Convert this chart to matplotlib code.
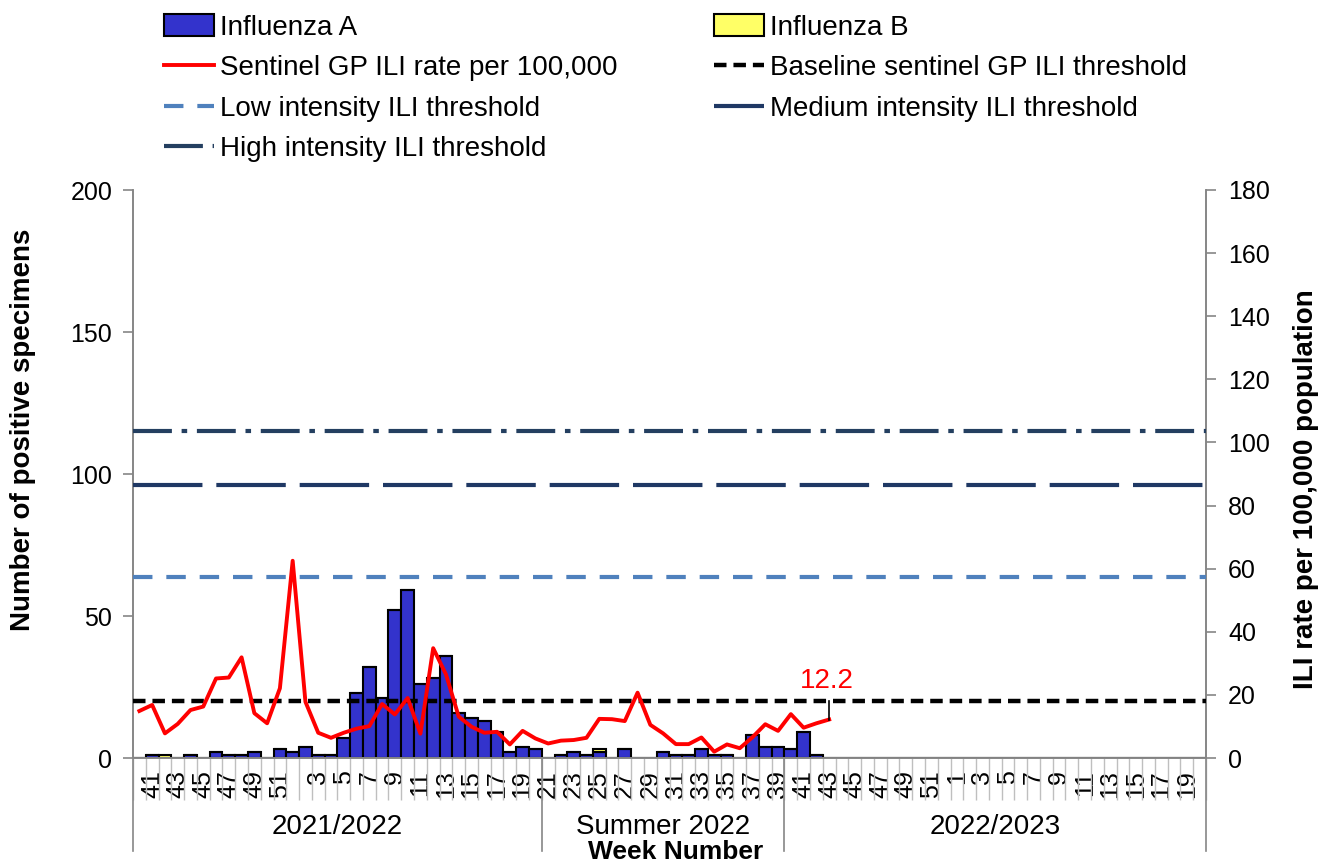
import matplotlib
matplotlib.use("Agg")
import matplotlib.pyplot as plt
import numpy as np
from matplotlib.patches import Patch
from matplotlib.lines import Line2D

plt.rcParams['font.family'] = ['Liberation Sans', 'DejaVu Sans']
plt.rcParams['lines.scale_dashes'] = False

# ---------------- data ----------------
season1_weeks = list(range(40, 53)) + list(range(2, 21))
summer_weeks = list(range(21, 40))
season2_weeks = list(range(40, 53)) + list(range(1, 21))
weeks = season1_weeks + summer_weeks + season2_weeks
week_labels = [str(w) if w % 2 == 1 else "" for w in weeks]

group_names = ["2021/2022", "Summer 2022", "2022/2023"]
group_sizes = [len(season1_weeks), len(summer_weeks), len(season2_weeks)]

flu_a_obs = [0, 1, 0, 0, 1, 0, 2, 1, 1, 2, 0, 3, 2, 4, 1, 1, 7, 23, 32, 21,
             52, 59, 26, 28, 36, 16, 14, 13, 9, 2, 4, 3,
             0, 1, 2, 1, 2, 0, 3, 0, 0, 2, 1, 1, 3, 1, 1, 0, 8, 4, 4,
             3, 9, 1]
flu_b_obs = [0, 0, 1, 0, 0, 0, 0, 0, 0, 0, 0, 0, 0, 0, 0, 0, 0, 0, 0, 0,
             0, 0, 0, 0, 0, 0, 0, 0, 0, 0, 0, 0,
             0, 0, 0, 0, 1, 0, 0, 0, 0, 0, 0, 0, 0, 0, 0, 0, 0, 0, 0,
             0, 0, 0]
ili_rate_obs = [14.9, 16.8, 7.8, 10.8, 15.2, 16.3, 25.2, 25.5, 31.9, 14.2,
                11.0, 22.1, 62.5, 17.8, 8.0, 6.4, 8.0, 9.3, 10.1, 17.1,
                13.8, 19.0, 7.7, 34.8, 26.5, 13.1, 9.9, 8.0, 8.3, 4.3,
                8.6, 6.2,
                4.6, 5.5, 5.7, 6.4, 12.4, 12.3, 11.7, 20.7, 10.5, 7.8,
                4.4, 4.4, 6.5, 2.0, 4.3, 3.1, 6.6, 10.7, 8.6,
                13.9, 9.6, 11.0, 12.2]

baseline_threshold = 18.0
low_threshold = 57.4
medium_threshold = 86.5
high_threshold = 103.6
last_label = "12.2"

n = len(weeks)
flu_a = np.array(flu_a_obs + [0] * (n - len(flu_a_obs)), dtype=float)
flu_b = np.array(flu_b_obs + [0] * (n - len(flu_b_obs)), dtype=float)
ili = np.array(ili_rate_obs + [np.nan] * (n - len(ili_rate_obs)))
x = np.arange(n)

# ---------------- figure ----------------
W, H = 1327, 865
fig = plt.figure(figsize=(W / 100, H / 100), dpi=100)
ax = fig.add_axes([133 / W, 1 - 758 / H, (1206 - 133) / W, (758 - 190) / H])
ax2 = ax.twinx()

FS_TICK = 18
FS = 20
gray = '#868686'

col_a = '#3333CC'
col_b = '#FFFF66'
ax.bar(x, flu_a, width=1.0, color=col_a, edgecolor='black', linewidth=1.5, zorder=2)
ax.bar(x, flu_b, width=1.0, bottom=flu_a, color=col_b, edgecolor='black', linewidth=1.5, zorder=2)
ax.set_xlim(-0.5, n - 0.5)
ax.set_ylim(0, 200)
ax.set_yticks(np.arange(0, 201, 50))

ax2.set_ylim(0, 180)
ax2.set_yticks(np.arange(0, 181, 20))

ls_base = (0, (9, 5))
ls_low = (0, (14, 10))
ls_med = (0, (50, 10))
ls_high = (0, (28, 7, 4, 7))
xl = (-0.5, n - 0.5)
ax2.plot(xl, [baseline_threshold] * 2, color='black', lw=3.2, ls=ls_base, zorder=3)
ax2.plot(xl, [low_threshold] * 2, color='#4F81BD', lw=3.0, ls=ls_low, zorder=3)
ax2.plot(xl, [medium_threshold] * 2, color='#1F3864', lw=3.0, ls=ls_med, zorder=3)
ax2.plot(xl, [high_threshold] * 2, color='#243F60', lw=3.0, ls=ls_high, zorder=3)
ax2.plot(x, ili, color='#FF0000', lw=2.8, zorder=4)

last_i = len(ili_rate_obs) - 1
ax2.plot([last_i, last_i], [ili_rate_obs[-1], baseline_threshold], color='black', lw=1.2, zorder=5)
ax2.text(last_i - 0.2, 20.3, last_label, color='#FF0000', fontsize=FS, ha='center', va='bottom')

# spines / ticks
for a in (ax, ax2):
    a.spines['top'].set_visible(False)
    for s in ('left', 'right', 'bottom'):
        a.spines[s].set_color(gray)
        a.spines[s].set_linewidth(1.2)
ax.tick_params(axis='y', which='major', direction='out', length=7, width=1.2, color=gray,
               labelsize=FS_TICK, pad=8)
ax2.tick_params(axis='y', which='major', direction='out', length=7, width=1.2, color=gray,
                labelsize=FS_TICK, pad=9)

ax.set_xticks(x)
ax.set_xticklabels(week_labels, rotation=90, fontsize=FS_TICK)
ax.tick_params(axis='x', which='major', length=0, pad=9)
ax.set_xticks(np.arange(-0.5, n, 1.0), minor=True)
ax.tick_params(axis='x', which='minor', direction='out', length=30, width=1.0, color='#BFBFBF')

# group separators and names
trans = ax.get_xaxis_transform()
bounds = np.concatenate([[0], np.cumsum(group_sizes)]) - 0.5
for b in bounds:
    ax.plot([b, b], [0, -0.163], transform=trans, color=gray, lw=1.2, clip_on=False)
for i, name in enumerate(group_names):
    c = (bounds[i] + bounds[i + 1]) / 2
    ax.text(c, -0.122, name, transform=trans, ha='center', va='center', fontsize=FS)

ax.text(0.5 * (n - 1) + 0.5, -0.165, "Week Number", transform=trans, ha='center', va='center',
        fontsize=19, fontweight='bold')
ax.set_ylabel("Number of positive specimens", fontsize=FS, fontweight='bold')
ax.yaxis.set_label_coords(-0.09, 0.577)
ax2.set_ylabel("ILI rate per 100,000 population", fontsize=FS, fontweight='bold')
ax2.yaxis.set_label_coords(1.081, 0.473)

# legend
handles = [
    Patch(facecolor=col_a, edgecolor='black', linewidth=1.5, label='Influenza A'),
    Line2D([], [], color='#FF0000', lw=2.8, label='Sentinel GP ILI rate per 100,000'),
    Line2D([], [], color='#4F81BD', lw=3.0, ls=ls_low, label='Low intensity ILI threshold'),
    Line2D([], [], color='#243F60', lw=3.0, ls=ls_high, label='High intensity ILI threshold'),
    Patch(facecolor=col_b, edgecolor='black', linewidth=1.5, label='Influenza B'),
    Line2D([], [], color='black', lw=3.2, ls=ls_base, label='Baseline sentinel GP ILI threshold'),
    Line2D([], [], color='#1F3864', lw=3.0, ls=ls_med, label='Medium intensity ILI threshold'),
]
fig.legend(handles=handles, loc='upper left', bbox_to_anchor=(164 / W, 1 - 14 / H), ncol=2,
           frameon=False, fontsize=FS, handlelength=1.8, handleheight=0.85, handletextpad=0.2,
           labelspacing=0.5, columnspacing=3.5, borderpad=0, borderaxespad=0)

fig.savefig("out.png", dpi=100)
